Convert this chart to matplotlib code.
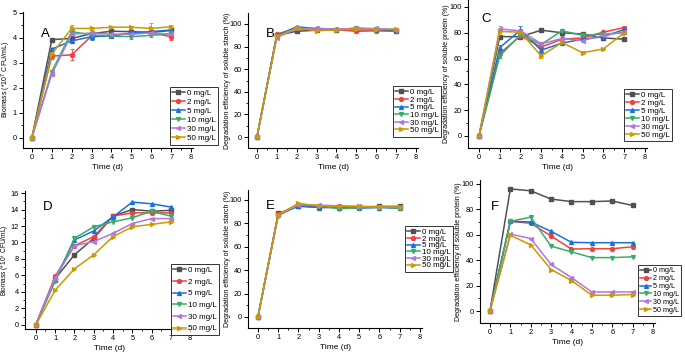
import matplotlib as mpl
import matplotlib.pyplot as plt
from matplotlib.lines import Line2D
import numpy as np

plt.rcParams["font.family"] = ["Liberation Sans", "DejaVu Sans"]
plt.rcParams["xtick.direction"] = "out"
plt.rcParams["ytick.direction"] = "out"

days = [0, 1, 2, 3, 4, 5, 6, 7]
doses = ["0 mg/L", "2 mg/L", "5 mg/L", "10 mg/L", "30 mg/L", "50 mg/L"]
colors = ["#515151", "#F14040", "#1A6FDF", "#37AD6B", "#B177DE", "#CC9900"]
markers = ["s", "o", "^", "v", "<", ">"]

# --- A: biomass (*10^7 CFU/mL) ---
biomass_a = [
    [0, 3.93, 3.98, 4.17, 4.27, 4.25, 4.22, 4.30],
    [0, 3.27, 3.32, 4.08, 4.10, 4.18, 4.20, 4.05],
    [0, 3.55, 3.88, 4.05, 4.08, 4.20, 4.25, 4.32],
    [0, 2.65, 4.25, 4.12, 4.07, 4.05, 4.10, 4.18],
    [0, 2.55, 4.15, 4.20, 4.15, 4.15, 4.20, 4.15],
    [0, 3.35, 4.38, 4.38, 4.43, 4.43, 4.38, 4.45],
]
biomass_a_err = [
    [0, 0.03, 0.04, 0.05, 0.06, 0.05, 0.05, 0.05],
    [0, 0.12, 0.22, 0.10, 0.08, 0.06, 0.08, 0.12],
    [0, 0.06, 0.06, 0.15, 0.06, 0.08, 0.08, 0.06],
    [0, 0.08, 0.10, 0.06, 0.06, 0.10, 0.08, 0.06],
    [0, 0.08, 0.08, 0.06, 0.12, 0.08, 0.08, 0.08],
    [0, 0.06, 0.12, 0.05, 0.06, 0.06, 0.20, 0.06],
]

# --- B: soluble starch degradation (%) ---
starch_b = [
    [0, 90.0, 93.5, 94.5, 95.0, 95.0, 94.5, 94.0],
    [0, 91.0, 96.0, 95.5, 95.0, 93.5, 94.0, 93.5],
    [0, 90.0, 97.5, 96.0, 95.5, 96.0, 95.0, 94.5],
    [0, 89.0, 96.0, 95.0, 94.5, 96.5, 95.5, 95.0],
    [0, 88.0, 96.0, 96.0, 95.5, 96.0, 96.0, 95.0],
    [0, 89.0, 96.5, 94.0, 95.0, 95.5, 95.0, 95.5],
]

# --- C: soluble protein degradation (%) ---
protein_c = [
    [0, 77.0, 77.0, 82.0, 80.0, 79.0, 76.0, 75.0],
    [0, 64.0, 77.5, 69.0, 75.0, 76.0, 80.5, 84.0],
    [0, 68.5, 82.0, 66.5, 72.0, 75.0, 77.0, 82.5],
    [0, 62.0, 78.5, 71.0, 81.5, 78.0, 79.0, 80.0],
    [0, 83.0, 81.5, 71.5, 75.5, 74.0, 78.0, 80.5],
    [0, 81.0, 80.5, 62.0, 72.5, 64.5, 67.5, 80.0],
]
protein_c_err = [
    [0, 1.0, 1.0, 1.0, 1.0, 1.0, 1.0, 1.0],
    [0, 1.5, 1.5, 1.5, 1.0, 1.0, 1.0, 1.0],
    [0, 2.0, 3.0, 2.0, 1.0, 1.0, 1.0, 1.0],
    [0, 1.5, 1.5, 1.0, 1.0, 1.0, 1.0, 1.0],
    [0, 2.0, 1.0, 1.5, 2.0, 1.5, 1.0, 1.0],
    [0, 1.5, 1.0, 1.5, 1.0, 1.0, 1.0, 1.0],
]

# --- D: biomass, second set ---
biomass_d = [
    [0, 5.6, 8.5, 10.5, 13.2, 14.0, 13.8, 13.9],
    [0, 5.9, 9.6, 10.7, 13.2, 13.6, 13.6, 13.6],
    [0, 5.5, 10.3, 11.4, 13.1, 14.9, 14.7, 14.3],
    [0, 5.3, 10.5, 11.9, 12.5, 13.0, 13.8, 13.2],
    [0, 5.7, 9.6, 10.1, 11.1, 12.3, 12.9, 12.9],
    [0, 4.2, 6.8, 8.5, 10.7, 11.9, 12.2, 12.5],
]

# --- E: soluble starch degradation, second set ---
starch_e = [
    [0, 88.5, 94.5, 94.0, 94.0, 94.0, 94.5, 94.5],
    [0, 88.0, 95.5, 95.0, 94.5, 94.0, 94.0, 93.5],
    [0, 87.0, 95.0, 93.5, 93.5, 93.0, 93.5, 93.0],
    [0, 86.5, 96.0, 95.0, 92.5, 93.5, 94.0, 93.0],
    [0, 87.0, 96.0, 95.5, 95.0, 94.5, 94.0, 94.0],
    [0, 87.5, 97.0, 95.0, 94.5, 94.5, 94.0, 94.0],
]

# --- F: soluble protein degradation, second set ---
protein_f = [
    [0, 96.0, 94.5, 88.0, 86.0, 86.0, 86.5, 83.0],
    [0, 70.5, 69.0, 59.0, 48.7, 49.0, 49.0, 50.5],
    [0, 70.5, 70.0, 62.6, 54.0, 53.7, 53.7, 53.7],
    [0, 70.5, 73.8, 51.0, 46.5, 42.0, 42.0, 42.6],
    [0, 60.5, 57.0, 36.6, 26.3, 15.0, 15.0, 15.0],
    [0, 59.5, 52.0, 32.6, 24.0, 12.4, 12.4, 13.0],
]

W, H = 685, 354
fig = plt.figure(figsize=(W / 100, H / 100), dpi=100)

starch_label = "Degradation efficiency of soluble starch (%)"
protein_label = "Degradation efficiency of soluble protein (%)"
biomass_label = "Biomass (*10$^7$ CFU/mL)"

panels = [
    # letter, data, err, box(l, r, t, b), xlim, ylim, ytick step, ylabel,
    # ylabel x, ylabel size, letter xy, legend (x0, y0, labelspacing, fontsize)
    ("A", biomass_a, biomass_a_err, (23, 193, 12, 148), (-0.45, 8.1), (-0.42, 5.04), 1,
     biomass_label, 6.5, 5.0, (45, 34), (170, 87, 0.17, 5.8)),
    ("B", starch_b, None, (248, 418, 13, 148), (-0.45, 8.1), (-9.7, 109.7), 20,
     starch_label, 227, 5.0, (270, 34), (393, 86, 0.0, 5.8)),
    ("C", protein_c, protein_c_err, (468, 647, 0, 148), (-0.53, 8.1), (-9.3, 105.4), 20,
     protein_label, 446.5, 5.0, (486, 19), (624, 89, 0.04, 5.8)),
    ("D", biomass_d, None, (25, 193, 191, 329), (-0.56, 8.15), (-0.5, 16.25), 2,
     biomass_label, 5.5, 4.7, (48, 207), (171, 264, 0.5, 5.8)),
    ("E", starch_e, None, (248, 422, 190, 328), (-0.49, 8.1), (-9.4, 108.5), 20,
     starch_label, 227, 5.0, (270, 206), (405, 226, -0.12, 5.8)),
    ("F", protein_f, None, (480, 655, 180, 323), (-0.49, 8.1), (-9.4, 103.0), 20,
     protein_label, 458.5, 5.0, (495, 207), (638, 265, 0.12, 5.2)),
]

for (letter, data, err, box, xlim, ylim, ystep, ylabel, ylab_x, ylab_fs,
     letter_xy, leg) in panels:
    l, r, t, b = box
    ax = fig.add_axes([l / W, 1 - b / H, (r - l) / W, (b - t) / H])
    for i, dose in enumerate(doses):
        yerr = err[i] if err is not None else None
        ax.errorbar(
            days, data[i], yerr=yerr, color=colors[i], marker=markers[i],
            markersize=2.8, linewidth=1.1, elinewidth=0.6, capsize=1.5,
            capthick=0.6,
        )
    ax.set_xlim(*xlim)
    ax.set_ylim(*ylim)
    ax.set_xticks(range(0, 9))
    ax.set_xticks(np.arange(0.5, 8.5, 1), minor=True)
    ax.set_yticks(np.arange(0, ylim[1] + 1e-6, ystep))
    ax.set_yticks(np.arange(ystep / 2, ylim[1], ystep), minor=True)
    for side in ["top", "right"]:
        ax.spines[side].set_visible(False)
    for side in ["left", "bottom"]:
        ax.spines[side].set_linewidth(0.8)
    ax.tick_params(which="major", length=3, width=0.7, labelsize=5.3, pad=1.3)
    ax.tick_params(which="minor", length=1.6, width=0.6)
    ax.set_xlabel("Time (d)", fontsize=6.0, labelpad=2)
    ax.set_ylabel(ylabel, fontsize=ylab_fs)
    ax.yaxis.label.set_va("center")
    ax.yaxis.set_label_coords((ylab_x - l) / (r - l), 0.5)

    fig.text(letter_xy[0] / W, 1 - letter_xy[1] / H, letter, fontsize=9.5,
             ha="center", va="center")

    handles = [
        Line2D([], [], color=colors[i], marker=markers[i], markersize=2.8,
               linewidth=1.1)
        for i in range(len(doses))
    ]
    lx, ly, spacing, lfs = leg
    lg = ax.legend(
        handles, doses, loc="upper left", bbox_to_anchor=(lx / W, 1 - ly / H),
        bbox_transform=fig.transFigure, fontsize=lfs, frameon=True,
        fancybox=False, edgecolor="black", borderaxespad=0, borderpad=0.3,
        handlelength=1.5, handletextpad=0.3, labelspacing=spacing,
    )
    lg.get_frame().set_linewidth(0.7)

fig.savefig("out.png", dpi=100, facecolor="white")
